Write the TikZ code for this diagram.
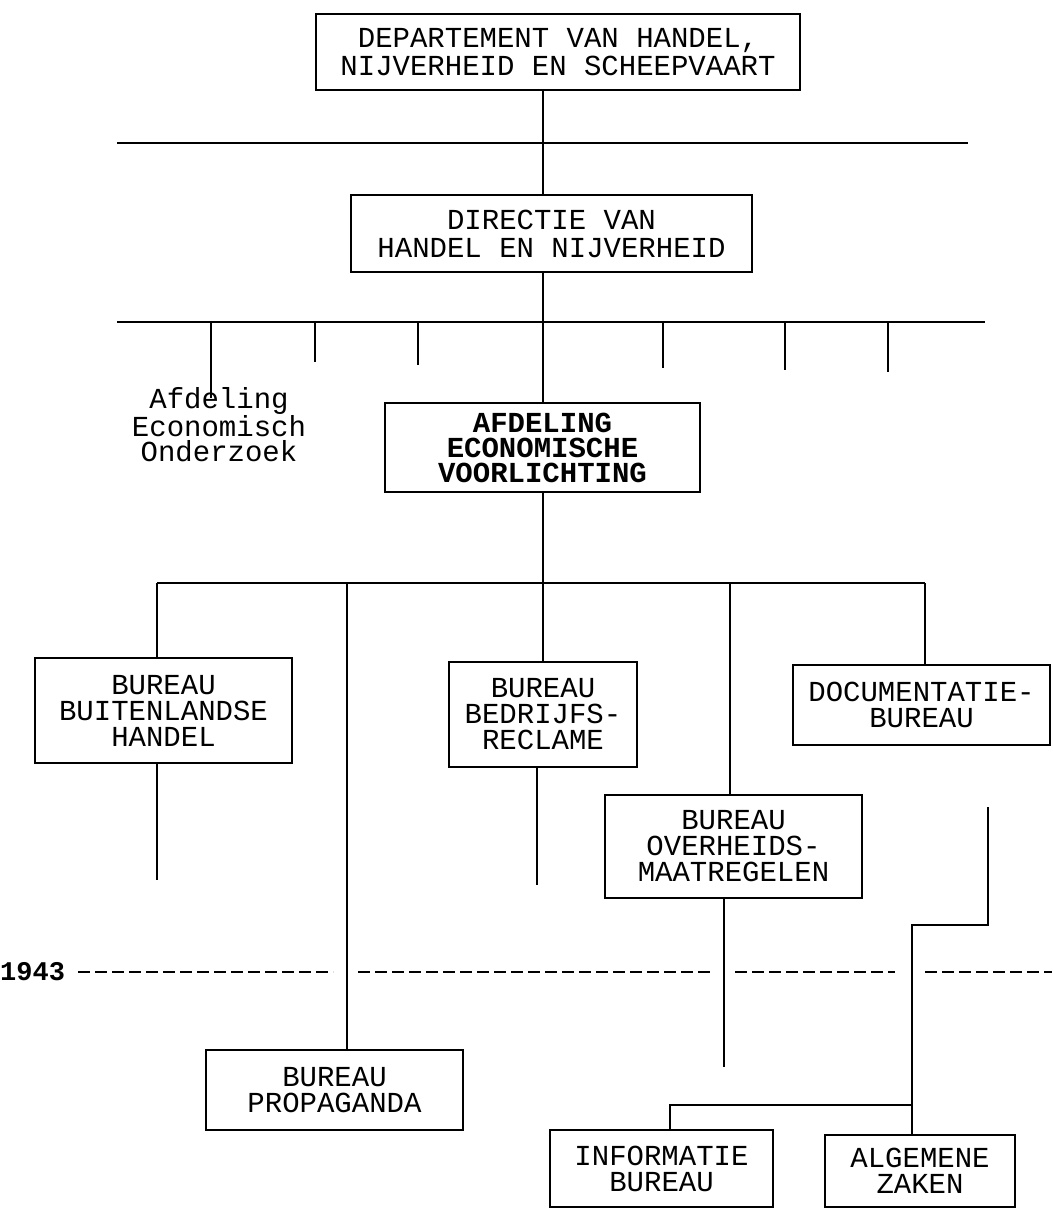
\documentclass[tikz,border=0pt]{standalone}
\usepackage{fontspec}
\setmonofont{Liberation Mono}
\usepackage{tikz}

\begin{document}
\begin{tikzpicture}[x=1pt,y=-1pt]
% Styles
\tikzstyle{kader}=[draw,line width=1.6pt,align=center,inner sep=0pt,font=\ttfamily\fontsize{29}{26}\selectfont]
\tikzstyle{hoofd}=[kader,font=\ttfamily\fontsize{29}{28}\selectfont]
\tikzstyle{tekst}=[align=center,inner sep=0pt,font=\ttfamily\fontsize{29}{25}\selectfont]
\tikzstyle{lijn}=[line width=1.6pt]
\tikzstyle{stippel}=[line width=2.8pt,dash pattern=on 12pt off 5pt]
\useasboundingbox (0,0) rectangle (1052,1209);
% Hulppunten
\coordinate (stam) at (543,0);
\coordinate (k1) at (157,583);
\coordinate (k2) at (347,583);
\coordinate (k4) at (730,583);
\coordinate (k5) at (925,583);
\coordinate (e1) at (157,880);
\coordinate (e2) at (537,885);
\coordinate (e3) at (724,1067);
\coordinate (r1) at (988,807);
\coordinate (r2) at (988,925);
\coordinate (r3) at (912,925);
\coordinate (r4) at (912,1105);
\coordinate (r5) at (670,1105);
% Knopen
\node[hoofd,minimum width=484pt,minimum height=76pt] (dept) at (558,52) {DEPARTEMENT VAN HANDEL,\\NIJVERHEID EN SCHEEPVAART};
\node[hoofd,minimum width=401pt,minimum height=77pt] (dir) at (551.5,233.5) {DIRECTIE VAN\\HANDEL EN NIJVERHEID};
\node[tekst] (aeo) at (219,425) {Afdeling\\Economisch\\Onderzoek};
\node[kader,minimum width=315pt,minimum height=89pt,font=\ttfamily\bfseries\fontsize{29}{25}\selectfont] (aev) at (542.5,447.5) {AFDELING\\ECONOMISCHE\\VOORLICHTING};
\node[kader,minimum width=257pt,minimum height=105pt] (bbh) at (163.5,710.5) {BUREAU\\BUITENLANDSE\\HANDEL};
\node[kader,minimum width=188pt,minimum height=105pt] (bbr) at (543,714.5) {BUREAU\\BEDRIJFS-\\RECLAME};
\node[kader,minimum width=257pt,minimum height=80pt] (doc) at (921.5,705) {DOCUMENTATIE-\\BUREAU};
\node[kader,minimum width=257pt,minimum height=103pt] (bom) at (733.5,846.5) {BUREAU\\OVERHEIDS-\\MAATREGELEN};
\node[kader,minimum width=257pt,minimum height=80pt] (bp) at (334.5,1090) {BUREAU\\PROPAGANDA};
\node[kader,minimum width=223pt,minimum height=77pt] (ib) at (661.5,1168.5) {INFORMATIE\\BUREAU};
\node[kader,minimum width=190pt,minimum height=72pt] (az) at (920,1171) {ALGEMENE\\ZAKEN};
\node[tekst,anchor=west,font=\ttfamily\bfseries\fontsize{27}{25}\selectfont] (jaar) at (0,972) {1943};
% Lijnen
\draw[lijn] (117,143) -- (968,143);
\draw[lijn] (117,322) -- (985,322);
\draw[lijn] (dept.south -| stam) -- (dir.north -| stam);
\draw[lijn] (dir.south -| stam) -- (aev.north -| stam);
\draw[lijn] (211,322) -- (211,398);
\foreach \x/\y in {315/362,418/365,663/368,785/370,888/372}
  \draw[lijn] (\x,322) -- (\x,\y);
\draw[lijn] (aev.south -| stam) -- (bbr.north -| stam);
\draw[lijn] (k1) -- (k5);
\draw[lijn] (k1) -- (bbh.north -| k1);
\draw[lijn] (k2) -- (bp.north -| k2);
\draw[lijn] (k4) -- (bom.north -| k4);
\draw[lijn] (k5) -- (doc.north -| k5);
\draw[lijn] (bbh.south -| e1) -- (e1);
\draw[lijn] (bbr.south -| e2) -- (e2);
\draw[lijn] (bom.south -| e3) -- (e3);
\draw[lijn] (r1) -- (r2) -- (r3) -- (az.north -| r3);
\draw[lijn] (r4) -- (r5) -- (ib.north -| r5);
% 1943
\foreach \a/\b in {78/333,358/710,735/895,925/1052}
  \draw[stippel] (\a,972) -- (\b,972);
\end{tikzpicture}
\end{document}
